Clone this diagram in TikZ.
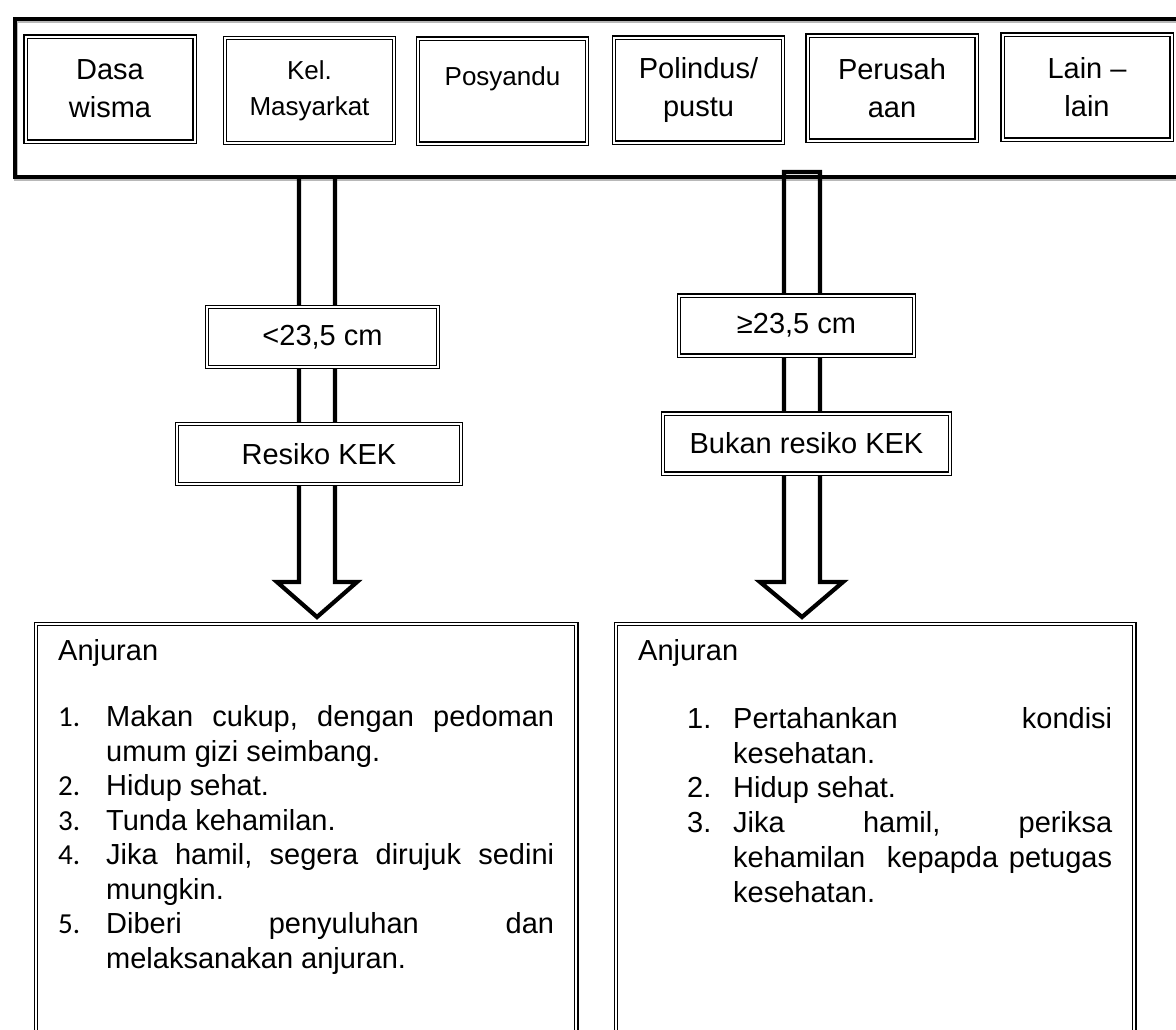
\documentclass[tikz,border=0pt]{standalone}
\usepackage{fontspec}
\setmainfont{Liberation Sans}
\newfontfamily\calib{Carlito}
\begin{document}
\begin{tikzpicture}[x=1pt,y=-1pt,
  dblbox/.style={draw, double, double distance=2pt, line width=1.1pt, fill=white, inner sep=0pt},
  topbox/.style={dblbox, minimum width=169pt, minimum height=105pt, align=center, font=\fontsize{29}{38}\selectfont},
  midbox/.style={dblbox, minimum height=60pt, font=\fontsize{29}{34}\selectfont},
  arrowline/.style={line width=4.2pt, line join=miter},
  txt/.style={anchor=north west, inner sep=0pt, align=left}]
\useasboundingbox (0,0) rectangle (1176,1029);
\clip (0,0) rectangle (1176,1029);
\fill[white] (0,0) rectangle (1176,1029);
% container with shadow
\draw[line width=4pt, black!28] (1210,21) -- (15.5,21) -- (15.5,179) -- (1210,179);
\node[draw, line width=4pt, minimum width=1200pt, minimum height=158pt, anchor=north west, inner sep=0pt] (grp) at (13,17) {};
% block arrows
\coordinate (tipL) at (317,617);
\coordinate (tipR) at (802,617);
\draw[arrowline] (299,175) -- (299,582) -- (277,582) -- (tipL) -- (357,582) -- (335,582) -- (335,175);
\draw[arrowline] (784,172) -- (784,582) -- (760,582) -- (tipR) -- (843,582) -- (820,582) -- (820,172) -- cycle;
% top boxes
\node[topbox] (dasa) at (110,89) {Dasa\\wisma};
\node[topbox, font=\fontsize{26}{36}\selectfont] (kel) at (309.5,90.5) {Kel.\\Masyarkat};
\node[topbox, font=\fontsize{26}{36}\selectfont, text height=20pt, text depth=31pt] (posy) at (502.5,91) {Posyandu};
\node[topbox] (poli) at (698.5,90) {Polindus/\\pustu};
\node[topbox] (peru) at (892,88) {Perusah\\aan};
\node[topbox] (lain) at (1087,87) {Lain –\\lain};
% middle boxes
\node[midbox, minimum width=231pt] (lt) at (322.5,337) {<23,5 cm};
\node[midbox, minimum width=284pt] (ltk) at (319,454) {Resiko KEK};
\node[midbox, minimum width=235pt] (ge) at (796.5,325.5) {≥23,5 cm};
\node[midbox, minimum width=287pt] (gek) at (806.5,443.5) {Bukan resiko KEK};
% bottom boxes
\node[dblbox, anchor=north west, minimum width=540.8pt, minimum height=500pt] (boxL) at (35.1,623.1) {};
\node[dblbox, anchor=north west, minimum width=518.8pt, minimum height=500pt] (boxR) at (615.1,623.1) {};
\node[txt, font=\fontsize{29}{34.5}\selectfont] (txtL) at (58,635) {\rule{0pt}{25pt}Anjuran\\[32.2pt]
\makebox[48pt][l]{\calib 1.}\makebox[448pt][s]{Makan\hfill cukup,\hfill dengan\hfill pedoman}\\
\hspace*{48pt}umum gizi seimbang.\\
\makebox[48pt][l]{\calib 2.}Hidup sehat.\\
\makebox[48pt][l]{\calib 3.}Tunda kehamilan.\\
\makebox[48pt][l]{\calib 4.}\makebox[448pt][s]{Jika\hfill hamil,\hfill segera\hfill dirujuk\hfill sedini}\\
\hspace*{48pt}mungkin.\\
\makebox[48pt][l]{\calib 5.}\makebox[448pt][s]{Diberi\hfill penyuluhan\hfill dan}\\
\hspace*{48pt}melaksanakan anjuran.};
\node[txt, font=\fontsize{29}{34.7}\selectfont] (txtR) at (638,635) {\rule{0pt}{25pt}Anjuran\\[33.6pt]
\hspace*{49pt}\makebox[46pt][l]{1.}\makebox[379pt][s]{Pertahankan\hfill kondisi}\\
\hspace*{95pt}kesehatan.\\
\hspace*{49pt}\makebox[46pt][l]{2.}Hidup sehat.\\
\hspace*{49pt}\makebox[46pt][l]{3.}\makebox[379pt][s]{Jika\hfill hamil,\hfill periksa}\\
\hspace*{95pt}\makebox[379pt][s]{kehamilan\hfill\hfill kepapda\hfill petugas}\\
\hspace*{95pt}kesehatan.};
\end{tikzpicture}
\end{document}
